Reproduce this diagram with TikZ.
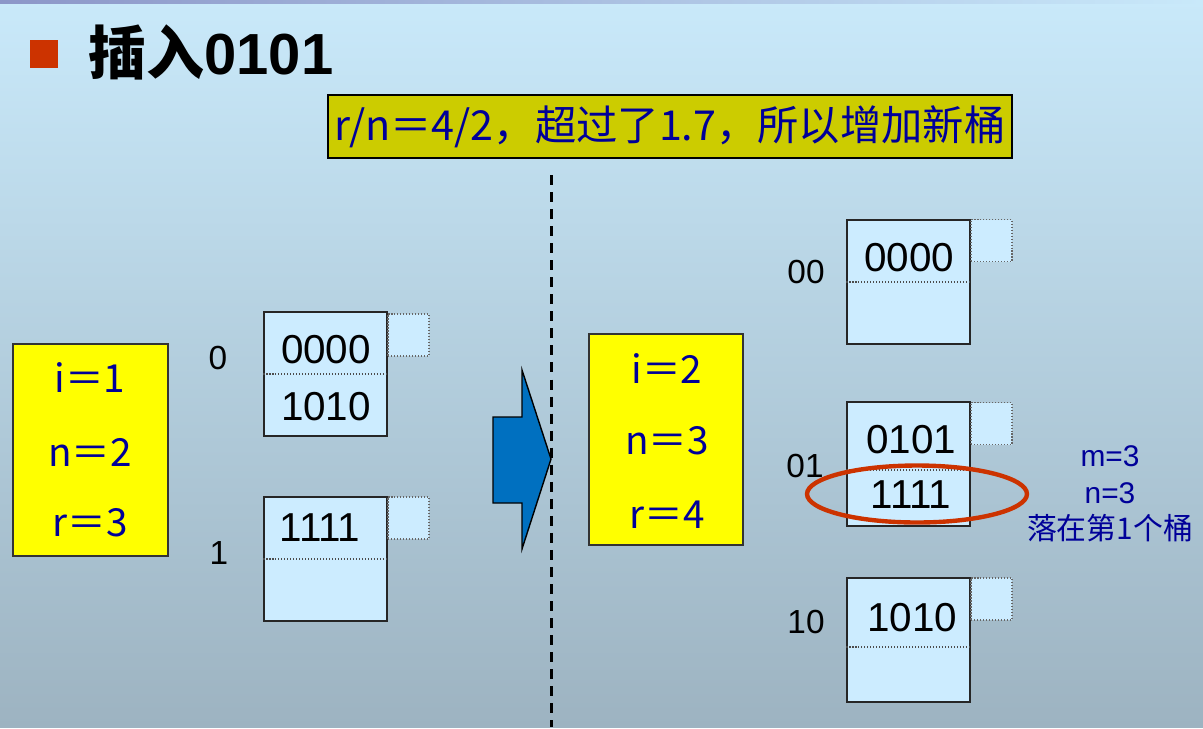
\documentclass[tikz,border=0pt]{standalone}
\usepackage{fontspec}
\setmainfont{Liberation Sans}
\newfontfamily\cjk{Noto Sans CJK SC}
\usetikzlibrary{shapes.geometric}
\definecolor{slidetop}{RGB}{201,233,250}
\definecolor{slidebot}{RGB}{157,179,193}
\definecolor{stripleft}{RGB}{140,150,200}
\definecolor{bulletred}{RGB}{204,51,0}
\definecolor{noteolive}{RGB}{204,204,0}
\definecolor{boxyellow}{RGB}{255,255,0}
\definecolor{inkblue}{RGB}{0,0,153}
\definecolor{bucketblue}{RGB}{204,236,255}
\definecolor{arrowblue}{RGB}{0,112,192}
\tikzset{bucket/.style={draw=black!85, fill=bucketblue, line width=0.8pt, minimum width=2.46cm, minimum height=2.48cm, inner sep=0pt}}
\tikzset{ovf/.style={draw=black!60, densely dotted, fill=bucketblue, line width=0.7pt, minimum width=0.82cm, minimum height=0.84cm, inner sep=0pt}}
\tikzset{divider/.style={densely dotted, line width=0.7pt, color=black!70}}
\tikzset{rec/.style={inner sep=0pt, font=\fontsize{23}{23}\selectfont}}
\tikzset{lbl/.style={inner sep=0pt, font=\fontsize{19}{19}\selectfont}}
\tikzset{statebox/.style={draw=black!80, fill=boxyellow, line width=0.8pt, inner sep=0pt}}
\tikzset{stat/.style={inner sep=0pt, text=inkblue, font=\cjk\fontsize{22}{22}\selectfont}}

\begin{document}
\begin{tikzpicture}[x=0.02cm, y=-0.02cm]%{{{
        \shade[top color=slidetop, bottom color=slidebot] (0,0) rectangle (1203,727);
        \shade[left color=stripleft, right color=slidetop] (0,0) rectangle (1203,3);

        \node[fill=bulletred, minimum size=0.56cm, inner sep=0pt] (bullet) at (44,53.5) {};
        \node[anchor=west, inner sep=0pt, font=\fontsize{33}{33}\selectfont\bfseries] (title) at (88,52)
        {{\cjk 插入}0101};

        \node[draw=black, fill=noteolive, line width=1pt, minimum width=13.68cm, minimum height=1.26cm, inner sep=0pt,
              text=inkblue, font=\cjk\fontsize{23.5}{23.5}\selectfont] (reason) at (670,126.5)
        {r/n＝4/2，超过了1.7，所以增加新桶};

        \coordinate (septop) at (551,175);
        \coordinate (sepbot) at (551,727);
        \draw[line width=1.7pt, dash pattern=on 5.7pt off 4pt] (septop) -- (sepbot);

        % before
        \node[statebox, minimum width=3.1cm, minimum height=4.24cm] (before) at (90.5,450) {};
        \node[stat] (bi) at (90,378) {i＝1};
        \node[stat] (bn) at (90,452) {n＝2};
        \node[stat] (br) at (90,523) {r＝3};

        \node[lbl] (l0) at (218,358) {0};
        \node[lbl] (l1) at (219,553) {1};

        \node[bucket] (b0) at (325.5,374) {};
        \node[ovf] (o0) at (408.5,335) {};
        \draw[divider] (b0.west) -- (b0.east);
        \node[rec] (b0a) at (326,350) {0000};
        \node[rec] (b0b) at (326,407) {1010};

        \node[bucket] (b1) at (325.5,559) {};
        \node[ovf] (o1) at (408.5,518) {};
        \draw[divider] (b1.west) -- (b1.east);
        \node[rec] (b1a) at (320,528) {1111};

        \draw[draw=black, line width=0.8pt, fill=arrowblue] (493,417) -- (522,417) -- (522,370) -- (551,459)
              -- (522,549) -- (522,503) -- (493,503) -- cycle;

        % after
        \node[statebox, minimum width=3.08cm, minimum height=4.22cm] (after) at (666,439.5) {};
        \node[stat] (ai) at (667,369) {i＝2};
        \node[stat] (an) at (667,441) {n＝3};
        \node[stat] (ar) at (667,515) {r＝4};

        \node[lbl] (l00) at (806,272) {00};
        \node[lbl] (l01) at (805,466) {01};
        \node[lbl] (l10) at (806,622) {10};

        \node[bucket] (c00) at (908.5,282) {};
        \node[ovf] (p00) at (991.5,240.5) {};
        \draw[divider] (c00.west) -- (c00.east);
        \node[rec] (c00a) at (909,258) {0000};

        \node[bucket] (c01) at (908.5,464) {};
        \node[ovf] (p01) at (991.5,423.5) {};
        \draw[divider] ([yshift=-0.12cm]c01.west) -- ([yshift=-0.12cm]c01.east);
        \node[rec] (c01a) at (911,440) {0101};
        \node[rec] (c01b) at (911,495) {1111};

        \node[bucket] (c10) at (908.5,640) {};
        \node[ovf] (p10) at (991.5,599) {};
        \draw[divider] ([yshift=-0.14cm]c10.west) -- ([yshift=-0.14cm]c10.east);
        \node[rec] (c10a) at (912,618) {1010};

        \node[draw=bulletred, line width=2.5pt, ellipse, minimum width=4.4cm, minimum height=1.14cm] (hit) at (917,494) {};

        \node[align=center, inner sep=0pt, text=inkblue, font=\fontsize{17}{20.7}\selectfont] (note) at (1110,494)
        {m=3\\n=3\\{\cjk 落在第1个桶}};
    \end{tikzpicture}
\end{document}
